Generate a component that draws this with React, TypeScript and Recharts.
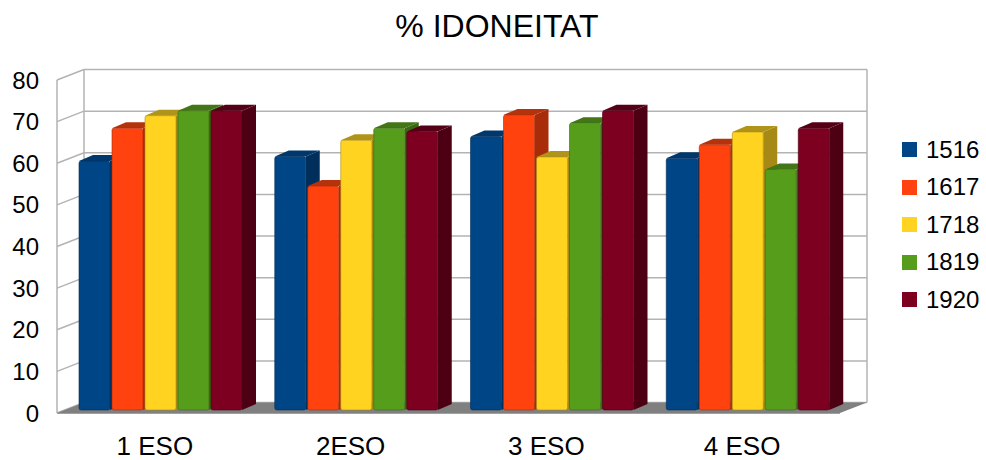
import React from 'react';
import { BarChart, Bar, XAxis, YAxis, CartesianGrid, Legend } from 'recharts';

const categories = ['1 ESO', '2ESO', '3 ESO', '4 ESO'];
const years = ['1516', '1617', '1718', '1819', '1920'];
const v1516 = [59.8, 60.9, 65.7, 60.5];
const v1617 = [67.7, 53.8, 70.9, 63.7];
const v1718 = [70.7, 64.8, 60.8, 66.8];
const v1819 = [71.9, 67.7, 68.9, 57.8];
const v1920 = [71.9, 66.9, 71.9, 67.7];
const yTicks = [0, 10, 20, 30, 40, 50, 60, 70, 80];

const seriesValues = [v1516, v1617, v1718, v1819, v1920];
const frontColors = ['#004586', '#ff420e', '#ffd320', '#579d1c', '#7e0021'];
const sideColors = ['#002f5c', '#a82c09', '#a68a15', '#3a6912', '#4d0014'];
const topColors = ['#00386e', '#b5330c', '#b09419', '#427616', '#560018'];

const data = categories.map((cat, i) => {
  const row: Record<string, string | number> = { cat };
  years.forEach((y, s) => { row[y] = seriesValues[s][i]; });
  return row;
});

const W = 986;
const H = 460;
const Y_AXIS_W = 57;
const MARGIN = { top: 80, right: 146, bottom: 0, left: 0 };
const X_AXIS_H = 47;
const PLOT_W = W - MARGIN.right - MARGIN.left - Y_AXIS_W;
// wall depth (oblique projection)
const DX = 27;
const DY = 10.5;
// bar depth
const BDX = 14;
const BDY = 6;
const FONT = '"Liberation Sans", Arial, sans-serif';
const GRID = '#b3b3b3';

const Bar3D = (props: any) => {
  const { x, y, width, height, fill, side, top } = props;
  if (!height || height <= 0) return null;
  const fx = x + 6;
  const fy = y - 3;
  const w = width;
  const h = height;
  return (
    <g>
      <polygon
        points={`${fx + w},${fy} ${fx + w + BDX},${fy - BDY} ${fx + w + BDX},${fy + h - BDY} ${fx + w},${fy + h}`}
        fill={side}
      />
      <polygon
        points={`${fx},${fy} ${fx + BDX},${fy - BDY} ${fx + w + BDX},${fy - BDY} ${fx + w},${fy}`}
        fill={top}
      />
      <rect x={fx} y={fy} width={w} height={h} rx={2} fill={fill} stroke={side} strokeOpacity={0.6} strokeWidth={1} />
    </g>
  );
};

const horizontalLine = (p: any) => {
  const { x1, y1, x2 } = p;
  return (
    <g key={`h-${y1}`}>
      <line x1={x1} y1={y1} x2={x1 + DX} y2={y1 - DY} stroke={GRID} strokeWidth={1.5} />
      <line x1={x1 + DX} y1={y1 - DY} x2={x2 + DX} y2={y1 - DY} stroke={GRID} strokeWidth={1.5} />
    </g>
  );
};

const verticalLine = (p: any) => {
  const { x1, y1, y2, index } = p;
  if (index === 0) {
    return (
      <g key="v-left">
        <line x1={x1} y1={y1} x2={x1} y2={y2} stroke={GRID} strokeWidth={1.5} />
        <line x1={x1 + DX} y1={y1 - DY} x2={x1 + DX} y2={y2 - DY} stroke={GRID} strokeWidth={1.5} />
        <polygon
          points={`${x1},${y2} ${x1 + PLOT_W},${y2} ${x1 + PLOT_W + DX},${y2 - DY} ${x1 + DX},${y2 - DY}`}
          fill="#808080"
        />
        <line x1={x1} y1={y2 + 0.5} x2={x1 + PLOT_W} y2={y2 + 0.5} stroke="#a0a0a0" strokeWidth={1} />
      </g>
    );
  }
  return (
    <g key="v-right">
      <line x1={x1 + DX} y1={y1 - DY} x2={x1 + DX} y2={y2 - DY} stroke={GRID} strokeWidth={1.5} />
    </g>
  );
};

const LegendBox = ({ payload }: any) => (
  <div style={{ fontFamily: FONT }}>
    {(payload || []).map((e: any) => (
      <div key={e.value} style={{ display: 'flex', alignItems: 'center', height: 37.5 }}>
        <span style={{ display: 'inline-block', width: 15, height: 15, background: e.color, marginRight: 9 }} />
        <span style={{ fontSize: 24, color: '#000' }}>{e.value}</span>
      </div>
    ))}
  </div>
);

export default function App() {
  return (
    <div style={{ position: 'absolute', left: 0, top: 0, width: W, height: H, background: '#fff', fontFamily: FONT }}>
      <div
        style={{
          position: 'absolute',
          left: 4,
          top: 10,
          width: W,
          textAlign: 'center',
          fontSize: 32,
          lineHeight: '32px',
          color: '#000',
        }}
      >
        % IDONEITAT
      </div>
      <BarChart width={W} height={H} data={data} margin={MARGIN} barSize={31} barGap={2}>
        <CartesianGrid
          stroke={GRID}
          horizontal={horizontalLine}
          vertical={verticalLine}
          verticalCoordinatesGenerator={({ offset }: any) => [offset.left, offset.left + offset.width]}
        />
        <XAxis
          dataKey="cat"
          height={X_AXIS_H}
          axisLine={false}
          tickLine={false}
          tickSize={0}
          tickMargin={24}
          tick={{ fill: '#000', fontSize: 26, fontFamily: FONT }}
        />
        <YAxis
          width={Y_AXIS_W}
          domain={[0, 80]}
          ticks={yTicks}
          axisLine={false}
          tickLine={false}
          tickSize={0}
          tickMargin={18}
          tick={{ fill: '#000', fontSize: 24, fontFamily: FONT }}
        />
        <Legend
          layout="vertical"
          align="center"
          verticalAlign="middle"
          content={<LegendBox />}
          wrapperStyle={{ left: 902, top: 131, width: 84 }}
        />
        {years.map((y, s) => (
          <Bar
            key={y}
            dataKey={y}
            name={y}
            fill={frontColors[s]}
            isAnimationActive={false}
            shape={(p: any) => <Bar3D {...p} side={sideColors[s]} top={topColors[s]} />}
          />
        ))}
      </BarChart>
    </div>
  );
}
